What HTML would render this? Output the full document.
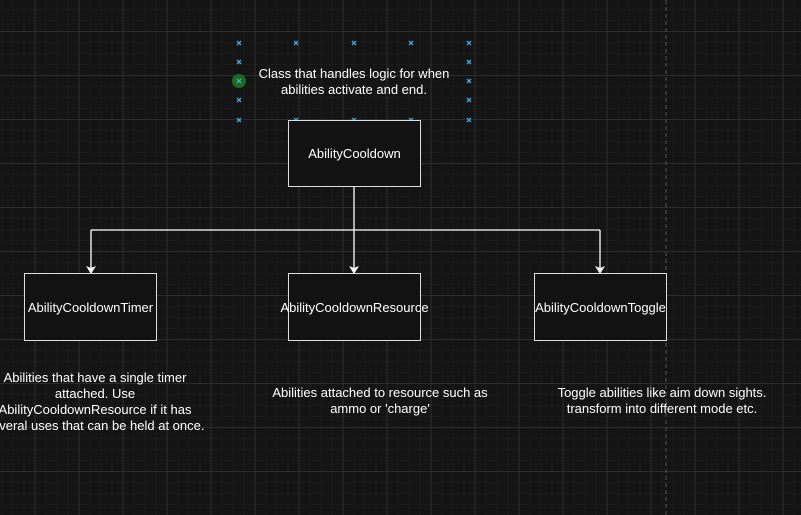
<!DOCTYPE html>
<html><head><meta charset="utf-8"><style>
html,body{margin:0;padding:0}
body{width:801px;height:515px;overflow:hidden;background:#141414;
background-image:
linear-gradient(to right,#2c2c2c 1px,transparent 1px),
linear-gradient(to bottom,#2c2c2c 1px,transparent 1px),
linear-gradient(to right,#1a1a1a 1px,transparent 1px),
linear-gradient(to bottom,#1a1a1a 1px,transparent 1px);
background-size:44px 44px,44px 44px,11px 11px,11px 11px;
background-position:34.5px 0,0 31px,1.5px 0,0 9px;
font-family:"Liberation Sans",sans-serif;position:relative}
.b{position:absolute;background:#121212;border:1.5px solid #ddd;box-sizing:border-box;color:#fff;font-size:13px;display:flex;align-items:center;justify-content:center;white-space:nowrap}
.t{position:absolute;color:#fff;font-size:13px;text-align:center;line-height:16px}
</style></head><body>
<svg width="801" height="515" style="position:absolute;left:0;top:0">
<line x1="666" y1="0" x2="666" y2="515" stroke="#555" stroke-dasharray="4,3"/>
<g stroke="#fff" stroke-width="1.3" fill="none">
<path d="M354 186V230M91 230H600M91 230V268M354 230V268M600 230V268"/>
</g>
<g fill="#fff">
<path d="M86 266L91 274L96 266L91 268Z"/><path d="M349 266L354 274L359 266L354 268Z"/><path d="M595 266L600 274L605 266L600 268Z"/>
</g>
<circle cx="239" cy="81" r="7" fill="#1d6a1d"/>
<g stroke="#3fa9dd" stroke-width="1.3">
<path d="M237 41l4 4m0-4l-4 4M294 41l4 4m0-4l-4 4M352 41l4 4m0-4l-4 4M409 41l4 4m0-4l-4 4M467 41l4 4m0-4l-4 4
M237 60l4 4m0-4l-4 4M467 60l4 4m0-4l-4 4M237 79l4 4m0-4l-4 4M467 79l4 4m0-4l-4 4M237 98l4 4m0-4l-4 4M467 98l4 4m0-4l-4 4
M237 118l4 4m0-4l-4 4M294 118l4 4m0-4l-4 4M352 118l4 4m0-4l-4 4M409 118l4 4m0-4l-4 4M467 118l4 4m0-4l-4 4"/>
</g>
</svg>
<div class="t" style="left:229px;top:66px;width:250px">Class that handles logic for when<br>abilities activate and end.</div>
<div class="b" style="left:288px;top:120px;width:133px;height:67px">AbilityCooldown</div>
<div class="b" style="left:24px;top:273px;width:133px;height:68px">AbilityCooldownTimer</div>
<div class="b" style="left:288px;top:273px;width:133px;height:68px">AbilityCooldownResource</div>
<div class="b" style="left:534px;top:273px;width:133px;height:68px">AbilityCooldownToggle</div>
<div class="t" style="left:-35px;top:370px;width:260px">Abilities that have a single timer<br>attached. Use<br>AbilityCooldownResource if it has<br>several uses that can be held at once.</div>
<div class="t" style="left:250px;top:385px;width:260px">Abilities attached to resource such as<br>ammo or 'charge'</div>
<div class="t" style="left:532px;top:385px;width:260px">Toggle abilities like aim down sights.<br>transform into different mode etc.</div>
</body></html>
